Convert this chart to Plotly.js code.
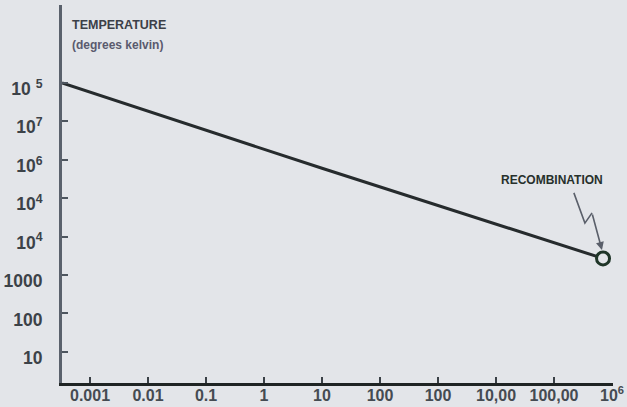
<!DOCTYPE html>
<html>
<head>
<meta charset="utf-8">
<script src="https://cdn.plot.ly/plotly-3.0.1.min.js"></script>
<style>html,body{margin:0;padding:0;background:#e3e5e9;}#chart{width:627px;height:407px;}</style>
</head>
<body>
<div id="chart"></div>
<script>
// Data (time since big bang vs temperature)
const timeValues = [3.3e-4, 10, 7.0e5];
const temperatureValues = [1.0e8, 6.0e5, 2.7e3];
const recombinationTime = [7.0e5];
const recombinationTemp = [2.7e3];

const xTickValues = [1e-3, 1e-2, 1e-1, 1, 10, 100, 1e3, 1e4, 1e5, 1e6];
const xTickLabels = ["0.001", "0.01", "0.1", "1", "10", "100", "100", "10,00", "100,00", "10<sup>6</sup>"];
const yTickValues = [10, 100, 1000, 1e4, 1e5, 1e6, 1e7, 1e8];
const yTickLabels = ["10", "100", "1000", "10<sup>4</sup>", "10<sup>4</sup>", "10<sup>6</sup>", "10<sup>7</sup>", "10 <sup>5</sup>"];

const ink = '#262b2d';
const grayInk = '#4d535c';
const font = 'Liberation Sans, Arial, sans-serif';

const traces = [
  {x: timeValues, y: temperatureValues, type: 'scatter', mode: 'lines',
   line: {color: ink, width: 3}, hoverinfo: 'skip', showlegend: false, cliponaxis: false},
  {x: recombinationTime, y: recombinationTemp, type: 'scatter', mode: 'markers',
   marker: {symbol: 'circle', size: 13, color: '#e3e5e9', line: {color: '#1f3528', width: 3}},
   showlegend: false, cliponaxis: false}
];

const layout = {
  width: 627, height: 407,
  margin: {l: 62, r: 14, t: 5, b: 24},
  paper_bgcolor: '#e3e5e9', plot_bgcolor: '#e3e5e9',
  font: {family: font, color: grayInk},
  xaxis: {type: 'log', range: [-3.483, 6.017], showgrid: false, zeroline: false,
    showline: true, linecolor: '#1f2424', linewidth: 3,
    ticks: 'inside', ticklen: 6, tickwidth: 2, tickcolor: '#3a4046',
    tickvals: xTickValues, ticktext: xTickLabels,
    tickfont: {family: font, size: 16, weight: 'bold', color: '#454b52'},
    ticklabelstandoff: -4},
  yaxis: {type: 'log', range: [0.1875, 10.03], showgrid: false, zeroline: false,
    showline: true, linecolor: '#5a616c', linewidth: 3,
    ticks: 'inside', ticklen: 6, tickwidth: 2, tickcolor: '#4d555e',
    tickvals: yTickValues, ticktext: yTickLabels,
    tickfont: {family: font, size: 17.5, weight: 'bold', color: '#3c4248'},
    ticklabelshift: 6, ticklabelstandoff: 13},
  annotations: [
    {xref: 'paper', yref: 'paper', x: 0.0145, y: 0.948, xanchor: 'left', yanchor: 'middle',
     text: 'TEMPERATURE', showarrow: false,
     font: {family: font, size: 12.5, weight: 'bold', color: '#3c4048'}},
    {xref: 'paper', yref: 'paper', x: 0.0145, y: 0.895, xanchor: 'left', yanchor: 'middle',
     text: '(degrees kelvin)', showarrow: false,
     font: {family: font, size: 12, weight: 'bold', color: '#5a5a6e'}},
    {xref: 'paper', yref: 'paper', x: 0.9855, y: 0.537, xanchor: 'right', yanchor: 'middle',
     text: 'RECOMBINATION', showarrow: false,
     font: {family: font, size: 12, weight: 'bold', color: '#27302c'}},
    {xref: 'paper', yref: 'paper', x: 0.980, y: 0.352, showarrow: true,
     ax: -10, ay: -37, arrowhead: 2, arrowsize: 1, arrowwidth: 1.6, arrowcolor: '#5a5f6a', text: ''}
  ],
  shapes: [
    {type: 'path', xref: 'paper', yref: 'paper',
     path: 'M 0.929 0.503 L 0.949 0.423 L 0.962 0.450',
     line: {color: '#5a5f6a', width: 1.6}}
  ]
};

Plotly.newPlot('chart', traces, layout, {staticPlot: true, displayModeBar: false});
</script>
</body>
</html>
